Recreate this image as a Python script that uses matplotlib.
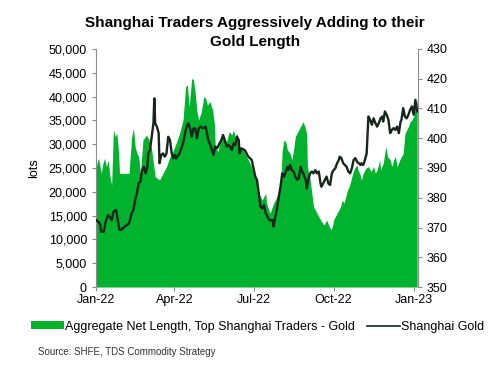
import numpy as np
import pandas as pd
import matplotlib
matplotlib.use("Agg")
import matplotlib.pyplot as plt
import matplotlib.dates as mdates
from matplotlib.ticker import FuncFormatter, MultipleLocator
from matplotlib.patches import Patch
from matplotlib.lines import Line2D

plt.rcParams['font.family'] = ['Liberation Sans', 'DejaVu Sans']

# Aggregate net length, top Shanghai traders (lots)
length_dates = [
    "2022-01-01", "2022-01-02", "2022-01-04", "2022-01-06", "2022-01-07", "2022-01-09",
    "2022-01-11", "2022-01-13", "2022-01-15", "2022-01-17", "2022-01-19", "2022-01-21",
    "2022-01-23", "2022-01-25", "2022-01-27", "2022-01-28", "2022-02-08", "2022-02-09",
    "2022-02-11", "2022-02-13", "2022-02-15", "2022-02-17", "2022-02-19", "2022-02-21",
    "2022-02-24", "2022-02-28", "2022-03-03", "2022-03-06", "2022-03-08", "2022-03-10",
    "2022-03-15", "2022-03-19", "2022-03-23", "2022-03-27", "2022-03-31", "2022-04-03",
    "2022-04-07", "2022-04-11", "2022-04-14", "2022-04-16", "2022-04-18", "2022-04-21",
    "2022-04-23", "2022-04-25", "2022-04-27", "2022-04-29", "2022-05-02", "2022-05-05",
    "2022-05-07", "2022-05-09", "2022-05-12", "2022-05-15", "2022-05-17", "2022-05-18",
    "2022-05-21", "2022-05-24", "2022-05-27", "2022-05-31", "2022-06-03", "2022-06-06",
    "2022-06-08", "2022-06-10", "2022-06-12", "2022-06-15", "2022-06-19", "2022-06-23",
    "2022-06-27", "2022-07-01", "2022-07-04", "2022-07-07", "2022-07-11", "2022-07-15",
    "2022-07-16", "2022-07-20", "2022-07-24", "2022-07-28", "2022-08-01", "2022-08-03",
    "2022-08-05", "2022-08-07", "2022-08-09", "2022-08-12", "2022-08-14", "2022-08-16",
    "2022-08-18", "2022-08-20", "2022-08-24", "2022-08-27", "2022-08-29", "2022-08-31",
    "2022-09-01", "2022-09-04", "2022-09-08", "2022-09-12", "2022-09-16", "2022-09-20",
    "2022-09-23", "2022-09-26", "2022-09-28", "2022-09-30", "2022-10-01", "2022-10-05",
    "2022-10-09", "2022-10-11", "2022-10-13", "2022-10-15", "2022-10-17", "2022-10-19",
    "2022-10-21", "2022-10-23", "2022-10-25", "2022-10-28", "2022-10-29", "2022-10-31",
    "2022-11-02", "2022-11-04", "2022-11-07", "2022-11-10", "2022-11-13", "2022-11-16",
    "2022-11-18", "2022-11-20", "2022-11-23", "2022-11-24", "2022-11-27", "2022-11-30",
    "2022-12-02", "2022-12-05", "2022-12-07", "2022-12-09", "2022-12-11", "2022-12-13",
    "2022-12-16", "2022-12-18", "2022-12-20", "2022-12-22", "2022-12-24", "2022-12-26",
    "2022-12-28", "2022-12-30", "2023-01-01", "2023-01-03", "2023-01-05",
]
length_lots = [
    24230, 25980, 27030, 24930, 23880, 25980,
    27030, 25280, 26680, 23180, 21430, 33020,
    31580, 32310, 28080, 23880, 23880, 26680,
    31580, 33330, 29480, 28080, 27380, 23880,
    30880, 31930, 30880, 28780, 25980, 23180,
    22480, 23880, 25280, 27380, 28780, 30180,
    32280, 35080, 42080, 42430, 37880, 43830,
    43480, 40680, 36830, 35080, 36830, 39980,
    39630, 38230, 38930, 37180, 34380, 29480,
    28430, 30880, 31580, 30530, 32630, 31930,
    32980, 31580, 32280, 29480, 28780, 27380,
    25980, 24230, 23180, 19680, 18280, 19680,
    17580, 15480, 17580, 18980, 21080, 28780,
    30880, 30530, 28780, 28080, 26680, 28780,
    31580, 32280, 33680, 34730, 33680, 32280,
    25280, 22480, 16880, 15480, 14080, 13030,
    14080, 12680, 11980, 13030, 14080, 15480,
    16880, 18280, 17580, 18980, 20380, 21080,
    22480, 23880, 24930, 25630, 24580, 23880,
    22480, 23880, 24930, 25280, 24230, 25280,
    23880, 24580, 26680, 24580, 25980, 29480,
    27380, 26680, 25280, 26680, 27380, 25280,
    26680, 27380, 28080, 32280, 32980, 33680,
    34730, 35080, 35780, 37880, 39280,
]

# Shanghai gold price (right axis)
gold_dates = [
    "2022-01-01", "2022-01-04", "2022-01-06", "2022-01-07", "2022-01-10", "2022-01-12",
    "2022-01-15", "2022-01-19", "2022-01-21", "2022-01-24", "2022-01-25", "2022-01-28",
    "2022-01-30", "2022-02-03", "2022-02-08", "2022-02-11", "2022-02-13", "2022-02-15",
    "2022-02-17", "2022-02-19", "2022-02-21", "2022-02-23", "2022-02-25", "2022-02-27",
    "2022-03-01", "2022-03-02", "2022-03-04", "2022-03-06", "2022-03-08", "2022-03-09",
    "2022-03-10", "2022-03-12", "2022-03-14", "2022-03-15", "2022-03-17", "2022-03-19",
    "2022-03-21", "2022-03-23", "2022-03-25", "2022-03-27", "2022-03-29", "2022-03-31",
    "2022-04-02", "2022-04-03", "2022-04-07", "2022-04-11", "2022-04-15", "2022-04-17",
    "2022-04-19", "2022-04-21", "2022-04-23", "2022-04-25", "2022-04-27", "2022-04-29",
    "2022-05-01", "2022-05-04", "2022-05-07", "2022-05-10", "2022-05-13", "2022-05-16",
    "2022-05-18", "2022-05-20", "2022-05-23", "2022-05-25", "2022-05-27", "2022-05-29",
    "2022-05-31", "2022-06-02", "2022-06-04", "2022-06-06", "2022-06-08", "2022-06-10",
    "2022-06-12", "2022-06-14", "2022-06-15", "2022-06-17", "2022-06-21", "2022-06-23",
    "2022-06-25", "2022-06-29", "2022-07-01", "2022-07-03", "2022-07-05", "2022-07-07",
    "2022-07-09", "2022-07-11", "2022-07-13", "2022-07-15", "2022-07-19", "2022-07-23",
    "2022-07-24", "2022-07-26", "2022-07-28", "2022-07-30", "2022-08-01", "2022-08-03",
    "2022-08-05", "2022-08-07", "2022-08-09", "2022-08-10", "2022-08-12", "2022-08-14",
    "2022-08-16", "2022-08-18", "2022-08-20", "2022-08-22", "2022-08-24", "2022-08-26",
    "2022-08-28", "2022-08-30", "2022-08-31", "2022-09-02", "2022-09-04", "2022-09-06",
    "2022-09-08", "2022-09-10", "2022-09-12", "2022-09-14", "2022-09-16", "2022-09-17",
    "2022-09-19", "2022-09-21", "2022-09-23", "2022-09-25", "2022-09-27", "2022-09-29",
    "2022-10-01", "2022-10-03", "2022-10-05", "2022-10-07", "2022-10-08", "2022-10-10",
    "2022-10-12", "2022-10-14", "2022-10-16", "2022-10-18", "2022-10-20", "2022-10-22",
    "2022-10-24", "2022-10-26", "2022-10-28", "2022-10-30", "2022-11-01", "2022-11-02",
    "2022-11-04", "2022-11-06", "2022-11-08", "2022-11-10", "2022-11-12", "2022-11-14",
    "2022-11-16", "2022-11-18", "2022-11-20", "2022-11-22", "2022-11-24", "2022-11-26",
    "2022-11-27", "2022-11-29", "2022-12-01", "2022-12-03", "2022-12-05", "2022-12-07",
    "2022-12-09", "2022-12-11", "2022-12-13", "2022-12-15", "2022-12-17", "2022-12-18",
    "2022-12-20", "2022-12-22", "2022-12-24", "2022-12-26", "2022-12-28", "2022-12-30",
    "2023-01-01", "2023-01-03", "2023-01-05",
]
gold_price = [
    372.5, 371.9, 370.8, 368.6, 368.6, 371.9,
    374.2, 372.5, 375.3, 375.9, 374.2, 369.2,
    369.2, 370.3, 371.4, 374.8, 375.9, 379.2,
    381.5, 384.9, 385.4, 389.3, 390.4, 388.2,
    390.4, 394.9, 396.0, 400.5, 405.0, 413.4,
    405.0, 403.9, 401.7, 391.6, 394.4, 394.9,
    393.8, 394.9, 400.5, 399.4, 394.9, 393.2,
    394.4, 393.2, 394.9, 398.3, 403.9, 405.0,
    403.3, 400.5, 403.3, 403.3, 400.0, 403.3,
    403.9, 403.3, 403.9, 399.4, 397.2, 394.4,
    397.2, 396.6, 398.3, 399.4, 401.1, 399.4,
    397.2, 397.7, 397.2, 396.0, 398.3, 397.7,
    400.5, 399.4, 394.9, 396.6, 396.0, 394.9,
    393.8, 392.7, 389.9, 387.1, 386.0, 381.5,
    377.0, 376.4, 377.6, 374.8, 372.5, 372.5,
    370.3, 373.6, 376.4, 380.4, 383.7, 388.2,
    387.1, 388.8, 390.4, 389.3, 391.0, 389.3,
    388.8, 387.1, 386.0, 386.5, 390.4, 388.8,
    387.6, 386.0, 383.1, 386.0, 388.2, 388.8,
    388.2, 389.3, 388.2, 388.8, 384.8, 383.7,
    384.8, 386.0, 387.1, 384.8, 384.3, 388.2,
    389.3, 389.9, 391.6, 392.7, 393.8, 393.3,
    391.6, 391.0, 390.4, 388.8, 388.2, 389.9,
    392.7, 393.3, 392.1, 391.6, 391.0, 391.6,
    391.0, 392.7, 394.9, 407.3, 406.2, 404.5,
    406.7, 405.1, 403.9, 405.1, 406.7, 407.3,
    405.6, 409.0, 407.9, 406.2, 401.7, 402.8,
    403.4, 402.8, 403.9, 401.7, 405.6, 406.2,
    410.1, 407.3, 406.7, 407.9, 409.6, 410.7,
    407.9, 412.9, 409.0,
]

green = '#00B22D'
line_col = '#17261b'
grey = '#8c8c8c'

len_x = pd.to_datetime(length_dates)
gold_x = pd.to_datetime(gold_dates)

fig = plt.figure(figsize=(5.0, 3.68), dpi=100)
ax = fig.add_axes([0.192, 0.22, 0.644, 0.647])
ax.fill_between(len_x, 0, length_lots, color=green, linewidth=0)
ax.set_ylim(0, 50000)
ax.set_xlim(pd.Timestamp("2022-01-01"), pd.Timestamp("2023-01-06"))
ax.yaxis.set_major_locator(MultipleLocator(5000))
ax.yaxis.set_major_formatter(FuncFormatter(lambda v, p: f'{int(v):,}'))
ax.set_ylabel('lots', fontsize=9, labelpad=6)

ax2 = ax.twinx()
ax2.plot(gold_x, gold_price, color=line_col, linewidth=1.7)
ax2.set_ylim(350, 430)
ax2.yaxis.set_major_locator(MultipleLocator(10))

ax.xaxis.set_major_locator(mdates.MonthLocator(bymonth=[1, 4, 7, 10]))
ax.xaxis.set_major_formatter(mdates.DateFormatter('%b-%y'))

for a in (ax, ax2):
    a.spines['top'].set_visible(False)
    a.spines['bottom'].set_visible(False)
    a.spines['left'].set_color(grey)
    a.spines['right'].set_color(grey)
    a.tick_params(labelsize=9, colors=grey, labelcolor='black', length=3, width=0.8)
ax.spines['right'].set_visible(False)
ax2.spines['left'].set_visible(False)
ax.tick_params(axis='x', pad=2)

fig.text(0.51, 0.912, 'Shanghai Traders Aggressively Adding to their\nGold Length',
         ha='center', va='center', fontsize=11, fontweight='bold', linespacing=1.4)

handles = [Patch(facecolor=green, edgecolor='none'),
           Line2D([0], [0], color=line_col, linewidth=1.2)]
labels = ['Aggregate Net Length, Top Shanghai Traders - Gold', 'Shanghai Gold']
fig.legend(handles, labels, loc='center', bbox_to_anchor=(0.515, 0.112), ncol=2,
           frameon=False, fontsize=9, handlelength=2.6, handleheight=0.6,
           handletextpad=0.1, columnspacing=1.0, borderaxespad=0)

fig.text(0.076, 0.043, 'Source: SHFE, TDS Commodity Strategy', fontsize=7,
         color='#333333', va='center')

fig.savefig('out.png', dpi=100)
